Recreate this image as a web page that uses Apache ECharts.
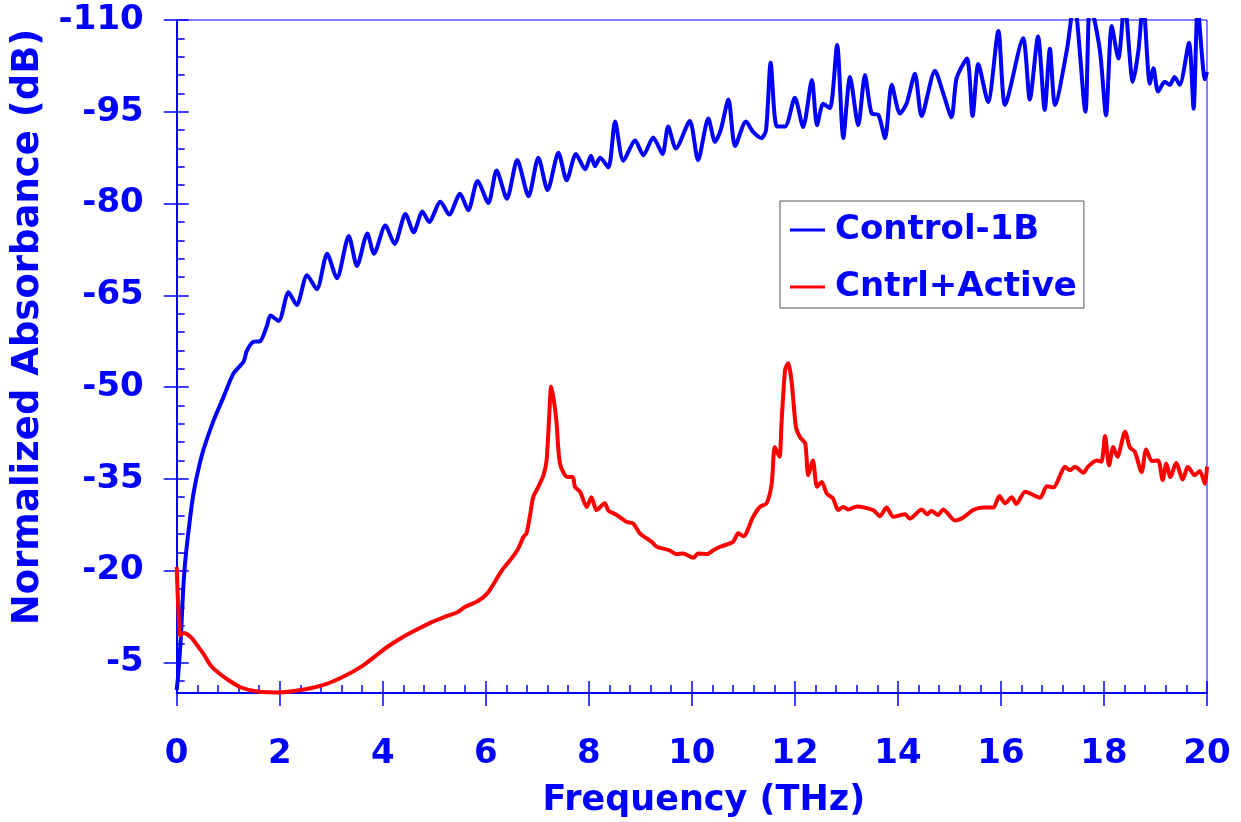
<!DOCTYPE html>
<html>
<head>
<meta charset="utf-8">
<script src="https://cdn.jsdelivr.net/npm/echarts@6/dist/echarts.min.js"></script>
<style>
html,body{margin:0;padding:0;background:#fff;}
#chart{width:1241px;height:822px;}
</style>
</head>
<body>
<div id="chart"></div>
<script>
// ---- data ----
const xTickLabels = [0, 2, 4, 6, 8, 10, 12, 14, 16, 18, 20];
const yTickLabels = [-110, -95, -80, -65, -50, -35, -20, -5];

const blueFreq = [0,0.03,0.08,0.12,0.16,0.23,0.32,0.42,0.52,0.71,0.91,1.10,1.30,1.36,1.49,1.62,1.75,1.82,1.98,2.17,2.33,2.53,2.72,2.92,3.11,3.34,3.50,3.70,3.83,4.05,4.23,4.44,4.60,4.77,4.90,5.12,5.29,5.50,5.66,5.84,6.05,6.21,6.41,6.61,6.83,7.02,7.20,7.41,7.57,7.75,7.93,8.04,8.12,8.22,8.38,8.51,8.67,8.90,9.06,9.25,9.43,9.54,9.69,9.96,10.12,10.32,10.45,10.56,10.71,10.84,11.05,11.19,11.35,11.44,11.53,11.65,11.81,12.0,12.16,12.33,12.43,12.55,12.68,12.82,12.94,13.07,13.23,13.36,13.49,13.62,13.75,13.88,14.04,14.17,14.33,14.46,14.72,14.88,15.04,15.14,15.34,15.45,15.56,15.75,15.95,16.08,16.43,16.56,16.72,16.85,16.95,17.05,17.28,17.42,17.64,17.73,17.92,18.04,18.15,18.28,18.40,18.56,18.67,18.76,18.89,18.96,19.05,19.18,19.28,19.37,19.47,19.65,19.74,19.82,19.96,20.0];
const blueVals = [-0.5,-3,-9,-16,-21,-26.5,-32.3,-36.5,-39.8,-44.4,-48.4,-52.2,-54.2,-55.9,-57.4,-57.5,-60.0,-61.7,-60.8,-65.5,-63.4,-68.3,-66.0,-71.8,-67.8,-74.7,-69.8,-75.1,-71.8,-76.4,-73.4,-78.3,-75.3,-78.7,-77.0,-80.3,-78.2,-81.6,-78.9,-83.7,-80.1,-85.4,-80.8,-87.1,-81.2,-87.5,-82.2,-88.3,-83.8,-88.1,-85.6,-87.8,-86.1,-87.5,-85.9,-93.4,-87.0,-90.3,-87.9,-90.8,-88.1,-92.6,-89.0,-93.5,-87.1,-93.9,-90.1,-92.0,-97.0,-89.4,-93.4,-91.7,-90.7,-92.0,-103,-92.6,-92.6,-97.3,-92.5,-100.2,-92.8,-96.3,-95.6,-105.9,-90.7,-100.7,-92.8,-101.0,-94.7,-94.5,-90.7,-99.4,-94.7,-96.4,-101.2,-94.3,-101.7,-98.0,-94.1,-100.5,-103.7,-94.3,-102.8,-96.6,-108.2,-96.1,-107.0,-97.0,-107.3,-95.3,-105.3,-96.1,-105.1,-113,-95.0,-113,-105.1,-94.4,-109.0,-103.7,-113,-99.9,-105.1,-113,-99.6,-102.1,-98.3,-99.9,-99.4,-100.7,-99.4,-106.3,-95.5,-112,-100.3,-101.5];

const redFreq = [0,0.03,0.07,0.13,0.29,0.45,0.52,0.65,0.78,0.97,1.25,1.6,2.0,2.5,2.88,3.24,3.6,3.85,4.1,4.4,4.67,4.93,5.19,5.45,5.6,5.84,6.04,6.31,6.50,6.63,6.73,6.79,6.86,6.92,7.02,7.12,7.18,7.23,7.27,7.32,7.37,7.44,7.58,7.69,7.73,7.83,7.96,8.05,8.15,8.31,8.38,8.54,8.73,8.86,8.99,9.22,9.32,9.57,9.70,9.83,10.03,10.12,10.29,10.41,10.55,10.80,10.90,11.0,11.19,11.32,11.45,11.55,11.61,11.70,11.74,11.81,11.87,11.94,12.02,12.10,12.20,12.26,12.35,12.43,12.52,12.62,12.74,12.84,12.94,13.04,13.2,13.52,13.65,13.78,13.91,14.14,14.23,14.46,14.57,14.65,14.78,14.88,15.11,15.27,15.46,15.66,15.85,15.97,16.08,16.21,16.30,16.47,16.76,16.89,17.02,17.15,17.24,17.34,17.44,17.60,17.69,17.86,17.95,18.02,18.10,18.18,18.26,18.41,18.50,18.60,18.73,18.82,18.93,19.05,19.14,19.21,19.29,19.40,19.53,19.63,19.76,19.86,19.96,20.0];
const redVals = [-20.6,-14,-9.4,-9.8,-9.0,-7.2,-6.4,-4.6,-3.5,-2.3,-0.9,-0.2,-0.1,-0.6,-1.4,-2.7,-4.4,-6.0,-7.6,-9.2,-10.4,-11.5,-12.4,-13.2,-14.1,-15.0,-16.4,-20.0,-22.0,-23.6,-25.5,-26.1,-29.1,-32.0,-33.7,-35.6,-38.0,-45.1,-50.1,-47.9,-44.6,-37.5,-35.3,-35.3,-33.7,-32.9,-30.4,-32.0,-29.9,-31.0,-29.8,-29.1,-28.0,-27.7,-26.1,-24.7,-23.9,-23.3,-22.7,-22.8,-22.1,-22.8,-22.7,-23.3,-23.9,-24.7,-26.1,-25.6,-28.8,-30.4,-31.0,-34.2,-40.2,-38.6,-44.0,-52.8,-53.9,-50.6,-43.5,-41.8,-40.8,-35.6,-38.0,-33.7,-34.5,-32.6,-31.8,-29.9,-30.4,-30.0,-30.5,-29.9,-28.9,-30.3,-28.8,-29.2,-28.5,-30.0,-29.2,-29.8,-29.1,-30.0,-28.2,-28.7,-29.9,-30.3,-30.3,-32.2,-31.0,-32.0,-30.9,-32.9,-31.9,-33.8,-33.6,-35.6,-37.0,-36.4,-37.0,-36.0,-37.0,-38.0,-37.8,-42.0,-37.2,-40.2,-38.6,-42.7,-40.2,-39.4,-36.1,-39.8,-37.9,-38.0,-34.8,-37.5,-35.3,-37.6,-34.9,-37.0,-35.6,-36.3,-34.2,-37.0];

const seriesNames = ['Control-1B', 'Cntrl+Active'];

// ---- build ----
const BLUE = '#0000ff';
const FONT = 'DejaVu Sans';
const yMinor = [];
for (let v = -110; v < 0; v += 3) { if ((v + 110) % 15 !== 0) yMinor.push(v); }
const xMinor = [];
for (let i = 1; i < 50; i++) { if (i % 5 !== 0) xMinor.push(Math.round(i * 4) / 10); }

const chart = echarts.init(document.getElementById('chart'), null, {renderer: 'canvas'});

function xAx(extra) {
  return Object.assign({
    type: 'value', gridIndex: 0, position: 'bottom', min: 0, max: 20, interval: 2,
    splitLine: {show: false},
    axisLine: {show: false},
    axisLabel: {show: false},
    axisTick: {show: false}
  }, extra);
}
function yAx(extra) {
  return Object.assign({
    type: 'value', gridIndex: 0, position: 'left', min: -110, max: 0, interval: 15, inverse: true,
    splitLine: {show: false},
    axisLine: {show: false},
    axisLabel: {show: false},
    axisTick: {show: false}
  }, extra);
}

const option = {
  animation: false,
  backgroundColor: '#ffffff',
  grid: {left: 176.7, right: 34, top: 20, bottom: 129, show: true, borderColor: BLUE, borderWidth: 1, containLabel: false, outerBoundsMode: 'none'},
  legend: {
    orient: 'vertical', left: 780, top: 201,
    padding: [11, 7, 3, 10], itemGap: 21,
    itemWidth: 35, itemHeight: 3, icon: 'rect',
    borderColor: '#555', borderWidth: 1, backgroundColor: '#fff',
    textStyle: {fontSize: 34, fontWeight: 'bold', fontFamily: FONT, color: BLUE, lineHeight: 36, padding: [0, 0, 0, 5]},
    data: seriesNames
  },
  xAxis: [
    xAx({
      axisLine: {show: true, lineStyle: {color: BLUE, width: 2}},
      axisTick: {show: true, inside: false, length: 13, lineStyle: {color: BLUE, width: 1.5}, customValues: xTickLabels},
      axisLabel: {show: true, margin: 44, fontSize: 34, fontWeight: 'bold', fontFamily: FONT, color: BLUE, customValues: xTickLabels},
      name: 'Frequency (THz)', nameLocation: 'middle', nameGap: 90,
      nameTextStyle: {fontSize: 35, fontWeight: 'bold', fontFamily: FONT, color: BLUE, padding: [0, 0, 0, 24]}
    }),
    xAx({axisTick: {show: true, inside: true, length: 12, lineStyle: {color: BLUE, width: 1.5}, customValues: xTickLabels}}),
    xAx({axisTick: {show: true, inside: true, length: 8, lineStyle: {color: BLUE, width: 1.5}, customValues: xMinor}})
  ],
  yAxis: [
    yAx({
      axisLine: {show: true, lineStyle: {color: BLUE, width: 2}},
      axisTick: {show: true, inside: false, length: 13, lineStyle: {color: BLUE, width: 1.5}, customValues: yTickLabels},
      axisLabel: {show: true, margin: 33, fontSize: 34, fontWeight: 'bold', fontFamily: FONT, color: BLUE, customValues: yTickLabels,
        formatter: v => (v === 0 ? '' : String(v))}
    }),
    yAx({axisTick: {show: true, inside: true, length: 12, lineStyle: {color: BLUE, width: 1.5}, customValues: yTickLabels}}),
    yAx({axisTick: {show: true, inside: true, length: 8, lineStyle: {color: BLUE, width: 1.5}, customValues: yMinor}})
  ],
  graphic: [{
    type: 'text', x: 28, y: 327, rotation: Math.PI / 2, z: 10,
    style: {text: 'Normalized Absorbance (dB)', font: 'bold 37px "DejaVu Sans"', fill: BLUE, align: 'center', verticalAlign: 'middle'}
  }],
  series: [
    {
      name: seriesNames[0], type: 'line', xAxisIndex: 0, yAxisIndex: 0,
      showSymbol: false, smooth: 0.25, clip: true,
      color: '#0000ff',
      lineStyle: {color: '#0000ff', width: 4},
      data: blueFreq.map((f, i) => [f, blueVals[i]])
    },
    {
      name: seriesNames[1], type: 'line', xAxisIndex: 0, yAxisIndex: 0,
      showSymbol: false, smooth: 0.25, clip: true,
      color: '#ff0000',
      lineStyle: {color: '#ff0000', width: 4},
      data: redFreq.map((f, i) => [f, redVals[i]])
    }
  ]
};
chart.setOption(option);
</script>
</body>
</html>
